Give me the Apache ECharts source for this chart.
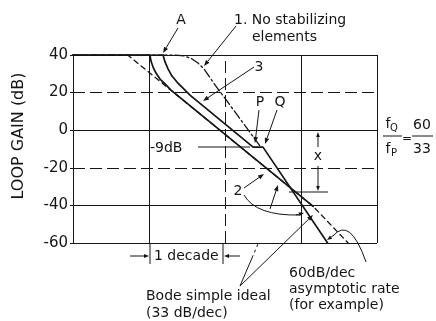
<!DOCTYPE html>
<html>
<head>
<meta charset="utf-8">
<script src="https://cdn.jsdelivr.net/npm/echarts@6/dist/echarts.min.js"></script>
<style>
  html, body { margin: 0; padding: 0; background: #fff; }
  #chart { width: 436px; height: 321px; }
</style>
</head>
<body>
<div id="chart"></div>
<script>
// Frequency axis is measured in decades from the left edge of the plot.
const decadeLines = [1, 2, 3, 4];
const gainTicks = [40, 20, 0, -20, -40, -60];

// Bode "simple ideal" 33 dB/dec characteristic (dashed)
const idealBode = [[0, 40], [0.72, 40], [3.16, -40.5], [3.62, -60]];
// 1. No stabilizing elements (dash-dot, 60 dB/dec roll-off)
const curveNoStab = [[0, 40], [1.342, 40], [1.461, 39.5], [1.566, 37.9], [1.645, 35.7],
                     [1.724, 32.6], [1.789, 28.8], [1.842, 25.6], [2.461, -8.4]];
// 2. Practical approximation following the ideal slope
const curve2 = [[0, 40], [1.013, 40], [1.026, 36.8], [1.053, 33.6], [1.092, 30.4],
                [1.145, 27.2], [1.211, 24.6], [1.289, 21.3], [3.16, -40.5]];
// 3. Variant with the -9 dB step between P and Q, then 60 dB/dec
const curve3 = [[0, 40], [1.184, 40], [1.211, 36.3], [1.25, 32.6], [1.303, 28.8],
                [1.368, 25.6], [1.447, 22.4], [1.539, 18.7], [2.37, -9], [2.50, -9], [3.35, -60]];

const INK = '#151515';
const FONT = 'DejaVu Sans';

const chart = echarts.init(document.getElementById('chart'), null, { renderer: 'canvas' });

function gridMarks() {
  const items = [];
  gainTicks.forEach(v => {
    const dashed = (v === 20 || v === -20);
    items.push({ yAxis: v, lineStyle: { color: INK, width: 1, type: dashed ? [12, 5] : 'solid' } });
  });
  decadeLines.forEach(d => {
    items.push({ xAxis: d, lineStyle: { color: INK, width: 1, type: d === 2 ? [12, 5] : 'solid' } });
  });
  return items;
}

function curve(name, data, type, width) {
  return {
    name, type: 'line', data, showSymbol: false, symbol: 'none', silent: true,
    animation: false, z: 3,
    lineStyle: { color: INK, width: width, type: type, join: 'round', cap: 'round' }
  };
}

// arrow helper: leader line with filled head at the end point
function arrow(x1, y1, x2, y2, head) {
  const h = head || 6;
  const ang = Math.atan2(y2 - y1, x2 - x1);
  const bx = x2 - h * Math.cos(ang), by = y2 - h * Math.sin(ang);
  const w = h * 0.38;
  const px = -Math.sin(ang) * w, py = Math.cos(ang) * w;
  return [
    { type: 'line', shape: { x1, y1, x2: bx, y2: by }, style: { stroke: INK, lineWidth: 1 }, silent: true },
    { type: 'polygon', shape: { points: [[x2, y2], [bx + px, by + py], [bx - px, by - py]] },
      style: { fill: INK }, silent: true }
  ];
}
function line(x1, y1, x2, y2, dash) {
  return { type: 'line', shape: { x1, y1, x2, y2 },
    style: { stroke: INK, lineWidth: 1, lineDash: dash || null }, silent: true };
}
function text(t, x, y, size, align, extra) {
  return Object.assign({ type: 'text', x, y, silent: true,
    style: { text: t, font: size + 'px "' + FONT + '"', fill: INK,
      align: align || 'left', verticalAlign: 'middle' } }, extra || {});
}

const graphics = [].concat(
  // axis title
  [text('LOOP GAIN (dB)', 19, 136, 16, 'center', { rotation: Math.PI / 2 })],
  // A
  [text('A', 181, 20, 14, 'center')], arrow(178, 28, 163, 53),
  // 1. No stabilizing elements
  [text('1. No stabilizing', 234, 20, 14), text('elements', 252, 37, 14)],
  arrow(236, 26, 204, 66),
  // 3
  [text('3', 259, 67, 14, 'center')], arrow(254, 67, 203, 101),
  // P and Q
  [text('P', 260, 102, 14, 'center'), text('Q', 280, 102, 14, 'center')],
  arrow(259, 110, 255, 143), arrow(277, 110, 265, 144),
  // -9dB level
  [text('-9dB', 150, 148, 14), line(198, 147, 250, 147)],
  // x dimension between 0 dB and -33 dB
  arrow(318, 147, 318, 132, 5), arrow(318, 166, 318, 191, 5),
  [line(289, 192, 328, 192), text('x', 318, 156, 14, 'center')],
  // frequency ratio
  [text('f', 388, 124, 14, 'center'), text('Q', 394, 128, 10, 'center'),
   line(383, 136, 402, 136),
   text('f', 388, 149, 14, 'center'), text('P', 394, 153, 10, 'center'),
   text('=', 407, 139, 12, 'center'),
   text('60', 422, 125, 14, 'center'), line(412, 136, 433, 136),
   text('33', 422, 149, 14, 'center')],
  // 2
  [text('2', 238, 191, 14, 'center')], arrow(244, 188, 264, 174),
  arrow(270, 209, 278, 185),
  [{ type: 'bezierCurve', shape: { x1: 244, y1: 195, cpx1: 256, cpy1: 216, x2: 300, y2: 215 },
     style: { stroke: INK, lineWidth: 1, fill: null }, silent: true }],
  arrow(296, 215, 304, 213, 5),
  // 1 decade
  arrow(130, 256, 149, 256, 5), arrow(240, 256, 224, 256, 5),
  [line(150, 243, 150, 264), line(223, 243, 223, 264),
   text('1 decade', 154, 256, 14)],
  // Bode simple ideal
  [text('Bode simple ideal', 146, 296, 14), text('(33 dB/dec)', 146, 313, 14)],
  [line(240, 286, 252, 258), line(252, 258, 258, 244, [3, 3])],
  arrow(240, 286, 313, 215),
  // 60 dB/dec asymptotic rate
  [text('60dB/dec', 289, 273, 14), text('asymptotic rate', 289, 289, 14),
   text('(for example)', 289, 305, 14)],
  [{ type: 'bezierCurve', shape: { x1: 366, y1: 262, cpx1: 350, cpy1: 216, x2: 333, y2: 236 },
     style: { stroke: INK, lineWidth: 1, fill: null }, silent: true }],
  arrow(334, 235, 327, 240, 5)
);

chart.setOption({
  animation: false,
  backgroundColor: '#fff',
  grid: { left: 73, right: 59, top: 55, bottom: 78 },
  xAxis: {
    type: 'value', min: 0, max: 4, interval: 1,
    axisLine: { show: false }, axisTick: { show: false },
    axisLabel: { show: false }, splitLine: { show: false }
  },
  yAxis: {
    type: 'value', min: -60, max: 40, interval: 20,
    axisLine: { show: true, lineStyle: { color: INK, width: 1 } },
    axisTick: { show: true, length: 3, lineStyle: { color: INK } },
    axisLabel: { margin: 5, color: INK, fontSize: 15, fontFamily: FONT },
    splitLine: { show: false }
  },
  series: [
    { type: 'line', data: [], silent: true, z: 1,
      markLine: { silent: true, symbol: 'none', label: { show: false }, animation: false,
        data: gridMarks() } },
    curve('Bode simple ideal', idealBode, [5, 4], 1.3),
    curve('1. No stabilizing elements', curveNoStab, [9, 3, 2, 3], 1.3),
    curve('2', curve2, 'solid', 1.7),
    curve('3', curve3, 'solid', 1.7)
  ],
  graphic: graphics
});
</script>
</body>
</html>
